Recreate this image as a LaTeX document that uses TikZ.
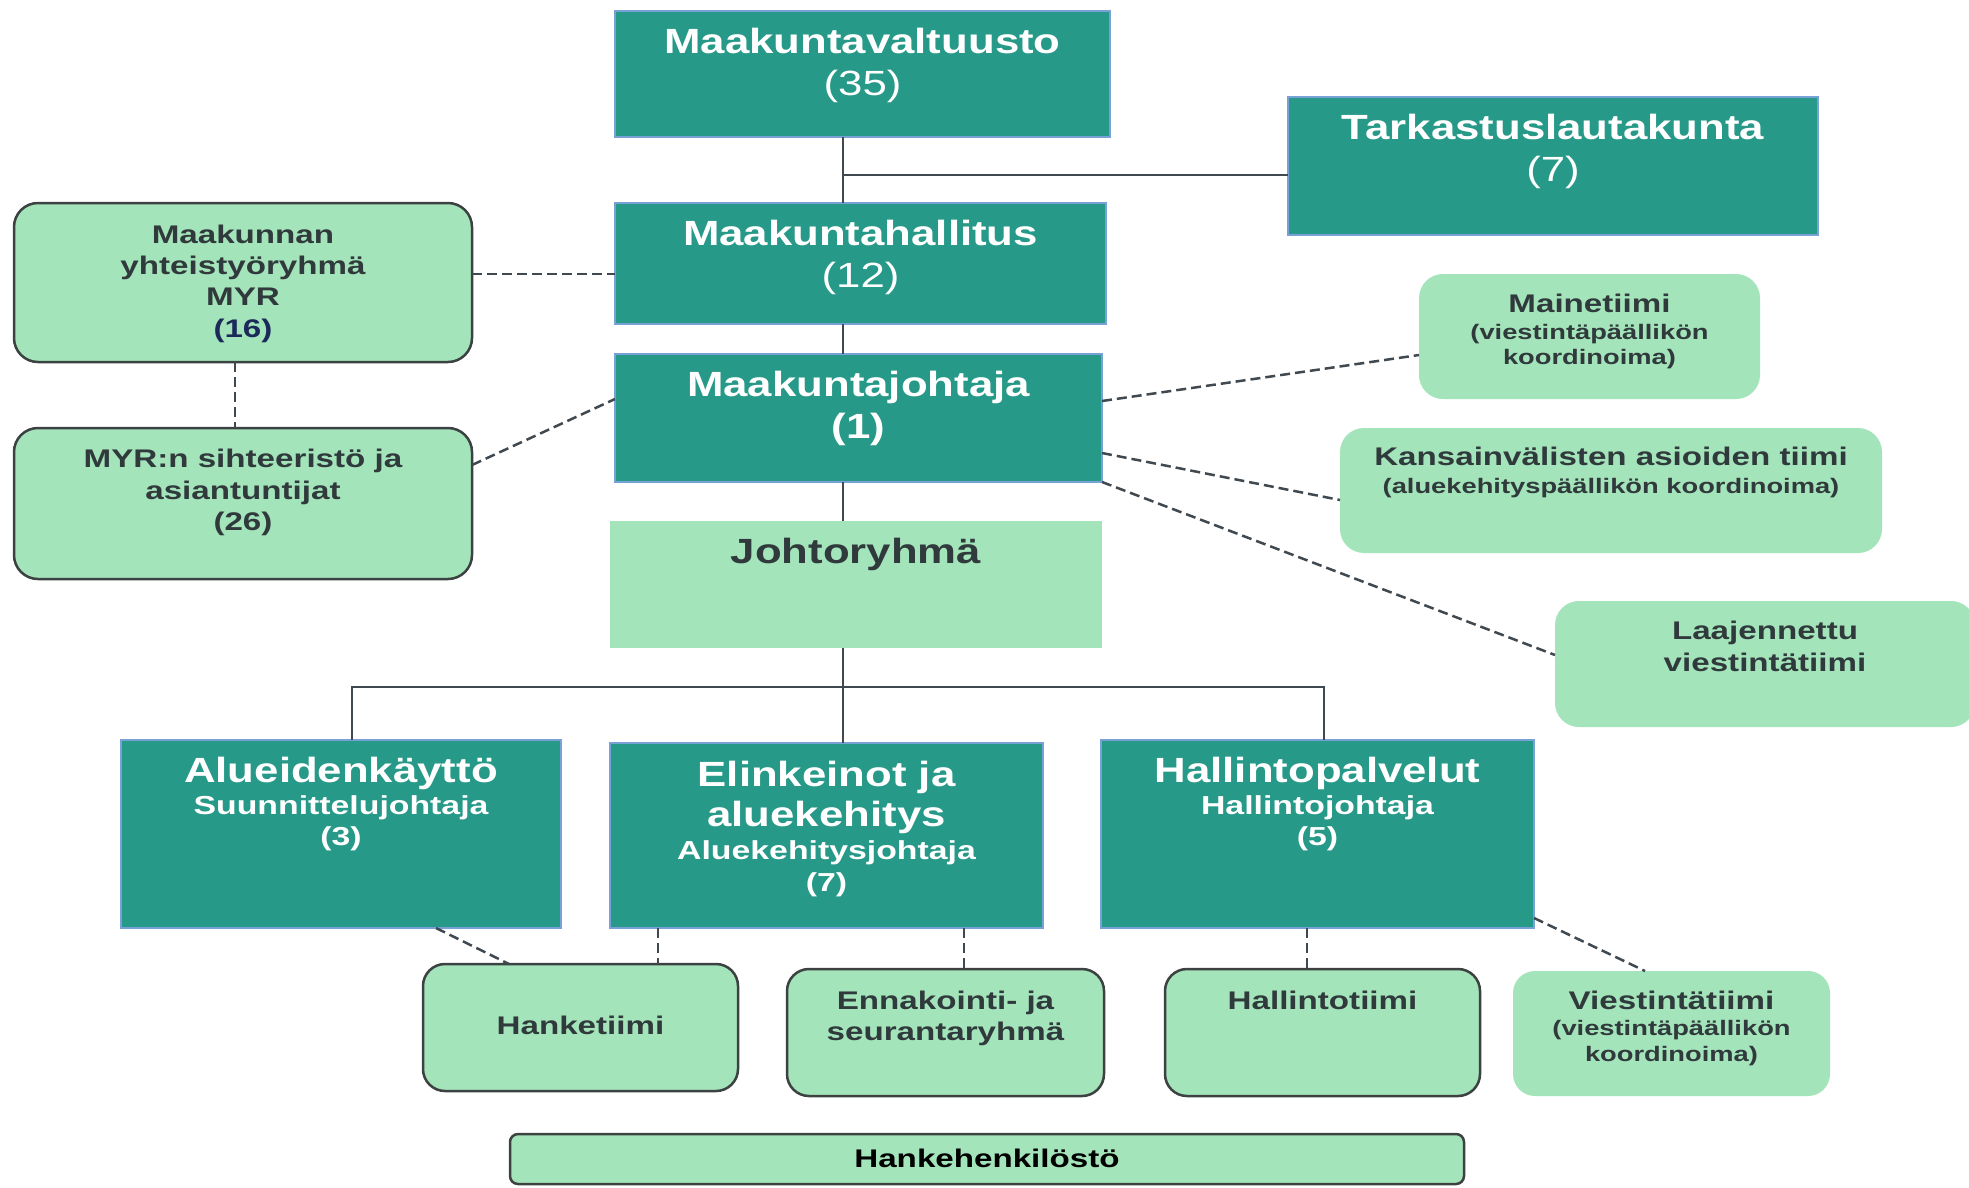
\documentclass[tikz,border=0pt]{standalone}
\usepackage{fontspec}
\setmainfont{Liberation Sans}
\newfontfamily\tfont[FakeStretch=1.25]{Liberation Sans}
\newfontfamily\lfont[FakeStretch=1.3]{Liberation Sans}
\usetikzlibrary{calc}
\definecolor{tealbox}{RGB}{39,153,136}
\definecolor{tealedge}{RGB}{120,162,214}
\definecolor{lgreen}{RGB}{164,228,186}
\definecolor{gedge}{RGB}{60,66,66}
\definecolor{dtext}{RGB}{48,58,60}
\definecolor{navy}{RGB}{28,42,90}
\definecolor{lineclr}{RGB}{64,72,80}
\tikzset{
  tbox/.style={fill=tealbox, draw=tealedge, line width=2pt, inner sep=0pt, outer sep=0pt, anchor=north west},
  gbox/.style={fill=lgreen, draw=gedge, line width=2.5pt, rounded corners=24pt, inner sep=0pt, outer sep=0pt, anchor=north west},
  gboxn/.style={fill=lgreen, draw=none, rounded corners=24pt, inner sep=0pt, outer sep=0pt, anchor=north west},
  ttl/.style={font=\tfont\bfseries\fontsize{35}{42}\selectfont, text=white, anchor=base, inner sep=0pt},
  ttlr/.style={font=\tfont\fontsize{35}{42}\selectfont, text=white, anchor=base, inner sep=0pt},
  subw/.style={font=\lfont\bfseries\fontsize{26}{31}\selectfont, text=white, anchor=base, inner sep=0pt},
  lab/.style={font=\lfont\bfseries\fontsize{25.5}{31}\selectfont, text=dtext, anchor=base, inner sep=0pt},
  sml/.style={font=\lfont\bfseries\fontsize{21}{25}\selectfont, text=dtext, anchor=base, inner sep=0pt},
  conn/.style={draw=lineclr, line width=2pt},
  dsh/.style={draw=lineclr, line width=2.5pt, dash pattern=on 10pt off 5pt},
}
\begin{document}
\begin{tikzpicture}[x=1pt,y=-1pt]
\useasboundingbox (0,0) rectangle (1969,1187);
\fill[white] (0,0) rectangle (1969,1187);

% ---- boxes ----
\node[tbox, minimum width=495pt, minimum height=126pt] (mv) at (615,11) {};
\node[tbox, minimum width=530pt, minimum height=138pt] (tk) at (1288,97) {};
\node[tbox, minimum width=491pt, minimum height=121pt] (mh) at (615,203) {};
\node[tbox, minimum width=487pt, minimum height=128pt] (mj) at (615,354) {};
\node[fill=lgreen, inner sep=0pt, outer sep=0pt, anchor=north west, minimum width=492pt, minimum height=127pt] (jr) at (610,521) {};
\node[gbox, minimum width=458pt, minimum height=159pt] (myr) at (14,203) {};
\node[gbox, minimum width=458pt, minimum height=151pt] (sih) at (14,428) {};
\node[gboxn, minimum width=341pt, minimum height=125pt] (mt) at (1419,274) {};
\node[gboxn, minimum width=542pt, minimum height=125pt] (kv) at (1340,428) {};
\node[gboxn, minimum width=420pt, minimum height=126pt] (lv) at (1555,601) {};
\node[tbox, minimum width=440pt, minimum height=188pt] (ak) at (121,740) {};
\node[tbox, minimum width=433pt, minimum height=185pt] (el) at (610,743) {};
\node[tbox, minimum width=433pt, minimum height=188pt] (hp) at (1101,740) {};
\node[gbox, rounded corners=22pt, minimum width=315pt, minimum height=127pt] (ht) at (423,964) {};
\node[gbox, rounded corners=22pt, minimum width=317pt, minimum height=127pt] (en) at (787,969) {};
\node[gbox, rounded corners=22pt, minimum width=315pt, minimum height=127pt] (hal) at (1165,969) {};
\node[gboxn, rounded corners=22pt, minimum width=317pt, minimum height=125pt] (vt) at (1513,971) {};
\node[gbox, rounded corners=8pt, minimum width=954pt, minimum height=50pt] (hh) at (510,1134) {};

% ---- texts ----
\node[ttl] (mvA) at ($(mv.north)+(0,42)$) {Maakuntavaltuusto};
\node[ttlr] (mvB) at ($(mv.north)+(0,84)$) {(35)};
\node[ttl] (tkA) at ($(tk.north)+(0,42)$) {Tarkastuslautakunta};
\node[ttlr] (tkB) at ($(tk.north)+(0,84)$) {(7)};
\node[ttl] (mhA) at ($(mh.north)+(0,42)$) {Maakuntahallitus};
\node[ttlr] (mhB) at ($(mh.north)+(0,84)$) {(12)};
\node[ttl] (mjA) at ($(mj.north)+(0,42)$) {Maakuntajohtaja};
\node[ttl] (mjB) at ($(mj.north)+(0,84)$) {(1)};
\node[ttl, text=dtext] (jrA) at ($(jr.north)+(0,42)$) {Johtoryhmä};

\node[lab] (myrA) at ($(myr.north)+(0,40)$) {Maakunnan};
\node[lab] (myrB) at ($(myr.north)+(0,71)$) {yhteistyöryhmä};
\node[lab] (myrC) at ($(myr.north)+(0,102)$) {MYR};
\node[lab, text=navy] (myrD) at ($(myr.north)+(0,134)$) {(16)};
\node[lab] (sihA) at ($(sih.north)+(0,39)$) {MYR:n sihteeristö ja};
\node[lab] (sihB) at ($(sih.north)+(0,71)$) {asiantuntijat};
\node[lab] (sihC) at ($(sih.north)+(0,102)$) {(26)};

\node[lab] (mtA) at ($(mt.north)+(0,38)$) {Mainetiimi};
\node[sml] (mtB) at ($(mt.north)+(0,65)$) {(viestintäpäällikön};
\node[sml] (mtC) at ($(mt.north)+(0,90)$) {koordinoima)};
\node[lab] (kvA) at ($(kv.north)+(0,37)$) {Kansainvälisten asioiden tiimi};
\node[sml] (kvB) at ($(kv.north)+(0,65)$) {(aluekehityspäällikön koordinoima)};
\node[lab] (lvA) at ($(lv.north)+(0,38)$) {Laajennettu};
\node[lab] (lvB) at ($(lv.north)+(0,70)$) {viestintätiimi};

\node[ttl] (akA) at ($(ak.north)+(0,42)$) {Alueidenkäyttö};
\node[subw] (akB) at ($(ak.north)+(0,74)$) {Suunnittelujohtaja};
\node[subw] (akC) at ($(ak.north)+(0,105)$) {(3)};
\node[ttl] (elA) at ($(el.north)+(0,43)$) {Elinkeinot ja};
\node[ttl] (elB) at ($(el.north)+(0,83)$) {aluekehitys};
\node[subw] (elC) at ($(el.north)+(0,116)$) {Aluekehitysjohtaja};
\node[subw] (elD) at ($(el.north)+(0,148)$) {(7)};
\node[ttl] (hpA) at ($(hp.north)+(0,42)$) {Hallintopalvelut};
\node[subw] (hpB) at ($(hp.north)+(0,74)$) {Hallintojohtaja};
\node[subw] (hpC) at ($(hp.north)+(0,105)$) {(5)};

\node[lab] (htA) at ($(ht.north)+(0,70)$) {Hanketiimi};
\node[lab] (enA) at ($(en.north)+(0,40)$) {Ennakointi- ja};
\node[lab] (enB) at ($(en.north)+(0,71)$) {seurantaryhmä};
\node[lab] (halA) at ($(hal.north)+(0,40)$) {Hallintotiimi};
\node[lab] (vtA) at ($(vt.north)+(0,38)$) {Viestintätiimi};
\node[sml] (vtB) at ($(vt.north)+(0,64)$) {(viestintäpäällikön};
\node[sml] (vtC) at ($(vt.north)+(0,90)$) {koordinoima)};
\node[lab, text=black] (hhA) at ($(hh.north)+(0,33)$) {Hankehenkilöstö};

% ---- helper coordinates ----
\coordinate (spine) at (843,0);
\coordinate (tkj) at ($(tk.west)+(0,9)$);
\coordinate (bus) at (0,687);
\coordinate (akd) at ($(ak.north)+(11,0)$);
\coordinate (hpd) at ($(hp.north)+(6,0)$);
\coordinate (ymh) at (0,274);
\coordinate (xmyr) at (235,0);
\coordinate (ysih) at (0,465);
\coordinate (ymjA) at (0,399);
\coordinate (ymjB) at (0,401);
\coordinate (ymt) at (0,355);
\coordinate (ymjC) at (0,453);
\coordinate (ykv) at (0,500);
\coordinate (ylv) at (0,655);
\coordinate (xak) at (436,0);
\coordinate (xht) at (509,0);
\coordinate (xelA) at (658,0);
\coordinate (xelB) at (964,0);
\coordinate (xhp) at (1307,0);
\coordinate (yhp) at (0,918);
\coordinate (xvt) at (1645,0);

% ---- solid connectors ----
\draw[conn] (spine |- mv.south) -- (spine |- mh.north);
\draw[conn] (spine |- tkj) -- (tkj);
\draw[conn] (spine |- mh.south) -- (spine |- mj.north);
\draw[conn] (spine |- mj.south) -- (spine |- jr.north);
\draw[conn] (spine |- jr.south) -- (spine |- el.north);
\draw[conn] (akd) -- (akd |- bus) -- (hpd |- bus) -- (hpd);

% ---- dashed connectors ----
\draw[dsh] (myr.east |- ymh) -- (mh.west |- ymh);
\draw[dsh] (myr.south -| xmyr) -- (sih.north -| xmyr);
\draw[dsh] (sih.east |- ysih) -- (mj.west |- ymjA);
\draw[dsh] (mj.east |- ymjB) -- (mt.west |- ymt);
\draw[dsh] (mj.east |- ymjC) -- (kv.west |- ykv);
\draw[dsh] (mj.south east) -- (lv.west |- ylv);
\draw[dsh] (ak.south -| xak) -- (ht.north -| xht);
\draw[dsh] (el.south -| xelA) -- (ht.north -| xelA);
\draw[dsh] (el.south -| xelB) -- (en.north -| xelB);
\draw[dsh] (hp.south -| xhp) -- (hal.north -| xhp);
\draw[dsh] (hp.east |- yhp) -- (vt.north -| xvt);
\end{tikzpicture}
\end{document}
